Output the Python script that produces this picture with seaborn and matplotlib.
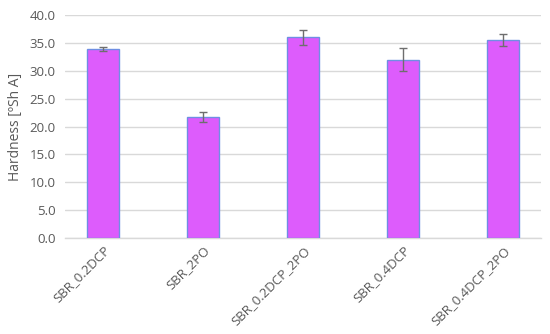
import matplotlib
matplotlib.use("Agg")
import matplotlib.pyplot as plt
import seaborn as sns
import pandas as pd

# Hardness data
samples = ["SBR_0.2DCP", "SBR_2PO", "SBR_0.2DCP_2PO", "SBR_0.4DCP", "SBR_0.4DCP_2PO"]
hardness = [33.9, 21.7, 36.0, 32.0, 35.5]
hardness_err = [0.4, 0.9, 1.4, 2.05, 1.1]
y_ticks = [0, 5, 10, 15, 20, 25, 30, 35, 40]

sns.set_theme(style="white")
plt.rcParams["font.family"] = ["Open Sans", "DejaVu Sans"]

df = pd.DataFrame({"sample": samples, "hardness": hardness, "err": hardness_err})

fig = plt.figure(figsize=(5.5, 3.34), dpi=100)
ax = fig.add_axes([0.119, 0.287, 0.864, 0.668])

sns.barplot(data=df, x="sample", y="hardness", color="#DD5CFC", saturation=1,
            width=0.32, edgecolor="#6F8FE3", linewidth=1.0, ax=ax, zorder=3)

# error bars at bar centres
centers = [p.get_x() + p.get_width() / 2 for p in ax.patches]
ax.errorbar(centers, df["hardness"], yerr=df["err"], fmt="none",
            ecolor="#6E6E6E", elinewidth=1.0, capsize=3, capthick=1.0, zorder=4)

ax.set_ylim(0, 40)
ax.set_yticks(y_ticks)
ax.set_yticklabels([f"{v:.1f}" for v in y_ticks])
ax.yaxis.grid(True, color="#D9D9D9", linewidth=1.0, zorder=0)
ax.set_axisbelow(True)

for side in ["top", "right", "left"]:
    ax.spines[side].set_visible(False)
ax.spines["bottom"].set_color("#D9D9D9")
ax.spines["bottom"].set_linewidth(1.0)

ax.tick_params(axis="both", length=0, labelsize=9.5, labelcolor="#595959")
ax.tick_params(axis="y", pad=7)
ax.tick_params(axis="x", pad=4)
plt.setp(ax.get_xticklabels(), rotation=45, ha="right", rotation_mode="anchor")
ax.set_xlabel("")
ax.set_ylabel("Hardness [ºSh A]", fontsize=10, color="#595959", labelpad=5)

fig.savefig("out.png", dpi=100)
plt.close(fig)
